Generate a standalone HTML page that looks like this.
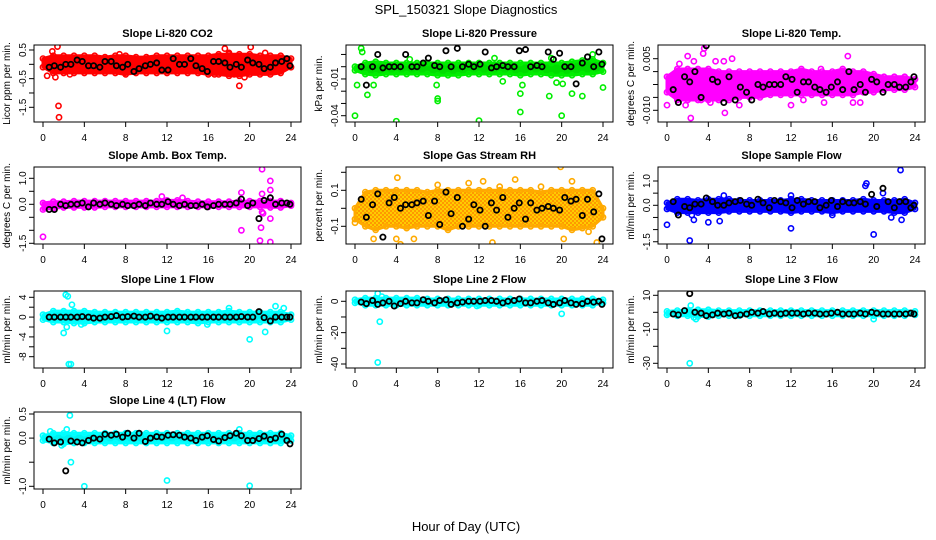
<!DOCTYPE html>
<html><head><meta charset="utf-8">
<style>
html,body{margin:0;padding:0;background:#fff;}
svg{display:block;font-family:"Liberation Sans",sans-serif;}
</style></head>
<body>
<svg id="chart" width="936" height="540" viewBox="0 0 936 540" xmlns="http://www.w3.org/2000/svg">
<defs>
<pattern id="rhpat" width="4" height="4" patternUnits="userSpaceOnUse">
<rect width="4" height="4" fill="#ffcc00"/><rect x="0" y="0" width="2" height="2" fill="#ff9900"/><rect x="2" y="2" width="2" height="2" fill="#ff9900"/>
</pattern>
</defs>
<text x="466" y="14" font-size="13" text-anchor="middle">SPL_150321  Slope Diagnostics</text>
<text x="466" y="531" font-size="13" text-anchor="middle">Hour of Day (UTC)</text>
<g id="panels"></g>
</svg>
<script>
// ---- shared data ----
const hours = [0,1,2,3,4,5,6,7,8,9,10,11,12,13,14,15,16,17,18,19,20,21,22,23,24];
const xTicks = [0,4,8,12,16,20,24];
const blackHours = [0.6,1.1,1.7,2.2,2.7,3.3,3.8,4.4,4.9,5.5,6.0,6.6,7.1,7.7,8.2,8.8,9.3,9.9,10.4,11.0,11.5,12.1,12.6,13.2,13.7,14.3,14.8,15.4,15.9,16.5,17.0,17.6,18.1,18.7,19.2,19.8,20.3,20.9,21.4,22.0,22.5,23.1,23.6,23.9];

// CO2
const co2Upper = [0.2,0.3,0.3,0.3,0.3,0.3,0.25,0.3,0.3,0.25,0.25,0.3,0.3,0.3,0.3,0.3,0.3,0.35,0.35,0.35,0.35,0.3,0.3,0.3,0.2];
const co2Lower = [-0.1,-0.3,-0.3,-0.3,-0.3,-0.3,-0.3,-0.3,-0.35,-0.3,-0.3,-0.3,-0.3,-0.3,-0.3,-0.3,-0.35,-0.35,-0.4,-0.4,-0.35,-0.35,-0.35,-0.3,-0.1];
const co2OutX = [0.9,1.4,1.2,1.5,1.55,0.4,2.6,7.4,17.6,18.0,19.0,19.5,20.1,21.5,16.6,18.5,3.9,7.9];
const co2OutY = [0.45,0.62,-0.45,-1.45,-1.85,-0.4,-0.35,0.35,0.55,0.4,-0.75,-0.45,0.6,0.4,-0.35,-0.35,-0.2,-0.3];
const co2Black = [-0.1,-0.05,-0.1,0.0,0.0,0.15,0.1,-0.05,-0.05,-0.1,0.1,0.1,-0.05,-0.1,0.0,-0.25,-0.15,-0.05,0.0,0.05,-0.2,-0.2,0.2,0.0,0.0,0.2,-0.05,-0.15,-0.25,0.1,0.1,0.05,-0.1,0.0,-0.1,0.15,0.05,0.0,-0.15,-0.1,0.05,0.1,0.2,-0.05];
// Pressure
const presUpper = [0,0.003,0.004,0.003,0.003,0.003,0.003,0.003,0.003,0.003,0.003,0.003,0.003,0.003,0.003,0.003,0.003,0.003,0.003,0.003,0.003,0.004,0.005,0.006,0.003];
const presLower = [-0.003,-0.006,-0.007,-0.006,-0.006,-0.006,-0.006,-0.006,-0.007,-0.007,-0.007,-0.006,-0.006,-0.006,-0.006,-0.006,-0.007,-0.006,-0.006,-0.007,-0.007,-0.007,-0.006,-0.006,-0.004];
const presOutX = [0,4,12,16,20,0.6,1.2,8,8,16,18.8,21,22,24,1.8,16.2,19.5,20.1,14.3,7.9,0.2,0.7,5.3,13.5,19,23];
const presOutY = [-0.04,-0.0445,-0.044,-0.037,-0.04,0.015,-0.023,-0.026,-0.028,-0.022,-0.024,-0.022,-0.024,-0.017,-0.015,-0.015,-0.013,-0.014,-0.012,-0.015,-0.015,0.012,0.006,0.007,0.007,0.01];
const presBlack = [0,-0.015,0,0.01,-0.001,0,0,0,0.01,0,0,0.003,0.007,0.001,0,0.013,0,0.015,0,0.002,0,0.002,0.012,-0.001,0,0.001,0,0,0.013,0.014,0,0.001,0,0.012,0.006,0.011,0,0,-0.014,0.003,0.008,0,0.012,0.002];
// Li-820 Temp
const tempUpper = [-0.002,0.001,0.001,0.001,0.001,0.0,0.0,0.0,0.0,0.0,0.0,0.0,0.0,0.001,0.0,0.0,0.0,0.001,0.0,0.0,-0.001,-0.002,-0.002,-0.002,-0.003];
const tempLower = [-0.008,-0.011,-0.011,-0.011,-0.011,-0.011,-0.011,-0.010,-0.010,-0.010,-0.009,-0.009,-0.009,-0.009,-0.009,-0.009,-0.009,-0.009,-0.009,-0.008,-0.008,-0.007,-0.007,-0.007,-0.006];
const tempOutX = [0,1.2,2,2.6,3.5,3.6,4.7,5.5,6.3,5.6,7.0,1.8,2.3,12,13.2,17.5,18,18.7,14.9,15.2,4.2,3.3];
const tempOutY = [-0.013,0.003,0.006,0.004,0.007,0.009,0.004,0.004,0.005,-0.016,-0.013,-0.013,-0.018,-0.013,-0.011,0.006,-0.012,-0.012,0.001,-0.012,-0.012,-0.011];
const tempBlack = [-0.007,-0.012,-0.002,-0.004,0.0,-0.010,0.010,-0.003,-0.004,-0.012,-0.002,-0.011,-0.006,-0.008,-0.011,-0.005,-0.006,-0.005,-0.005,-0.005,-0.002,-0.003,-0.008,-0.004,-0.004,-0.006,-0.007,-0.008,-0.006,-0.004,-0.007,0.0,-0.007,-0.005,-0.008,-0.003,-0.004,-0.008,-0.005,-0.005,-0.006,-0.006,-0.004,-0.002];
// Amb box temp
const ambUpper = [0.05,0.1,0.1,0.12,0.12,0.12,0.12,0.12,0.12,0.12,0.12,0.12,0.15,0.15,0.12,0.1,0.1,0.1,0.1,0.12,0.12,0.12,0.12,0.12,0.05];
const ambLower = [-0.2,-0.15,-0.12,-0.12,-0.12,-0.12,-0.1,-0.1,-0.1,-0.1,-0.1,-0.1,-0.1,-0.1,-0.1,-0.1,-0.1,-0.1,-0.1,-0.1,-0.1,-0.1,-0.12,-0.12,-0.05];
const ambOutX = [0,19.2,19.2,21,21.2,21.2,21.3,21.1,22,22,22,22,21.2,11.5,13.5];
const ambOutY = [-1.25,-1.0,0.45,-1.4,1.35,-0.3,-0.35,-0.9,0.9,0.55,-0.55,-1.45,0.4,0.3,0.25];
const ambBlack = [-0.2,-0.2,0.0,-0.05,0.0,0.0,0.05,-0.1,0.05,0.0,0.05,0.0,-0.05,0.0,-0.05,-0.05,0.0,-0.05,0.05,0.0,0.0,0.1,0.0,-0.05,0.0,-0.05,-0.05,0.0,-0.1,-0.05,0.0,0.0,0.0,0.05,0.2,-0.05,0.05,-0.55,0.15,0.25,0.0,0.05,0.05,0.0];
// Gas stream RH
const rhUpper = [0.0,0.09,0.1,0.1,0.1,0.1,0.1,0.09,0.1,0.1,0.1,0.1,0.1,0.1,0.1,0.1,0.1,0.1,0.09,0.1,0.1,0.1,0.1,0.1,0.0];
const rhLower = [-0.06,-0.1,-0.12,-0.1,-0.1,-0.11,-0.1,-0.1,-0.1,-0.12,-0.1,-0.1,-0.1,-0.1,-0.1,-0.1,-0.1,-0.1,-0.1,-0.1,-0.1,-0.12,-0.11,-0.1,-0.05];
const rhOutX = [4.1,4,4.4,5.7,15.5,19.9,21,13.3,23.4,20.2,1.8,11,12.4,0,14,18,22.6,8];
const rhOutY = [0.17,-0.17,-0.2,-0.17,0.16,0.23,0.15,-0.19,-0.19,-0.17,-0.17,0.14,0.15,-0.08,0.12,0.12,-0.13,0.13];
const rhBlack = [0.05,-0.05,0.02,0.08,-0.16,0.03,0.06,0.0,0.02,0.02,0.03,0.04,-0.04,0.04,-0.09,0.09,-0.03,0.06,-0.1,-0.06,0.02,-0.01,-0.1,0.03,-0.01,0.06,-0.05,0.0,0.03,-0.06,0.03,-0.01,0.0,0.01,0.0,-0.01,0.06,0.04,0.05,-0.04,0.05,-0.02,0.08,-0.17];
// Sample flow
const sampUpper = [0.1,0.25,0.25,0.2,0.25,0.25,0.25,0.2,0.2,0.2,0.2,0.2,0.25,0.25,0.2,0.2,0.2,0.2,0.2,0.25,0.2,0.2,0.2,0.25,0.1];
const sampLower = [-0.15,-0.3,-0.3,-0.3,-0.3,-0.3,-0.25,-0.25,-0.25,-0.25,-0.25,-0.25,-0.3,-0.25,-0.25,-0.25,-0.3,-0.25,-0.25,-0.25,-0.25,-0.25,-0.3,-0.3,-0.15];
const sampOutX = [0,2.2,2.6,4,5.1,12,19.2,19.3,20,22.6,22.7,21.7,20.9,2.4,12,5.5,16];
const sampOutY = [-0.8,-1.45,-0.6,-0.7,-0.65,-0.95,0.8,0.9,-1.2,1.45,-0.6,-0.5,0.5,-0.4,0.4,0.4,-0.4];
const sampBlack = [0.15,-0.4,-0.05,-0.1,0.05,0.05,0.3,0.15,0.0,0.0,0.1,0.15,0.2,0.05,0.0,0.25,0.1,-0.1,0.2,0.15,0.1,-0.1,0.2,0.05,0.15,0.15,-0.1,0.0,0.2,-0.05,0.15,0.1,0.1,0.15,0.05,0.45,-0.05,0.7,0.15,-0.1,0.15,0.15,-0.1,0.0];
// Line 1
const l1Upper = [0.5,1.2,1.2,1.2,1.2,1,1,1,1,1,1,1,1,1.2,1,1,1,1,1.2,1,1,1,1,1,0.5];
const l1Lower = [-0.5,-1,-1,-1.2,-1.2,-1,-1,-1,-1,-1,-1,-1,-1,-1,-1,-1.2,-1,-1,-1,-1,-1,-1,-1,-1,-0.5];
const l1OutX = [2.2,2.4,2.5,2.7,2.0,2.3,2.8,12,20,21.5,22.5,18,3.7,15.9,23.3];
const l1OutY = [4.5,4.2,-9.5,-9.5,-3.2,-2,2.5,-2.8,-4.5,-3,2.2,1.8,-1.5,-1.5,1.8];
const l1Black = [0,0,0,0,0,0,0.1,0,-0.2,-0.2,0,0.1,0.3,0,0.1,0.2,0,0,0.2,0,-0.2,0,0,0,0,0,0,0,0,0,0,0,0,0,0.1,0,0,1.1,-0.1,-0.8,0,0,0,0];
// Line 2
const l2Upper = [1,2,2,2,2,2,2,1.5,1.5,1.5,1.5,1.5,1.5,1.5,1.5,1.5,1.5,1.5,1.5,1.5,1.5,1.5,1.5,1.5,1];
const l2Lower = [-1,-2.5,-2.5,-2.5,-2.5,-2.5,-2.5,-2.5,-2.5,-2.5,-2.5,-2.5,-2.5,-2.5,-2.5,-2.5,-2.5,-2.5,-2.5,-2.5,-2.5,-2.5,-2.5,-2.5,-1];
const l2OutX = [2.2,2.4,2.2,20,2.6,11.8];
const l2OutY = [5,-13,-39,-8,3,-3];
const l2Black = [-0.5,-1.5,0.5,-2,-1,0,-3,-1.5,0,-1,-1,1,0,-1,0.5,1,-2,-1,-0.5,0,0,0,0.5,0.5,0,-1,0,0.5,1.5,-1,-1,0,0.5,-1,-2,-1,0.5,-1,-2,-1.5,0,-0.5,0,-2];
// Line 3
const l3Upper = [0.5,1,1,1.5,1.5,1,1,1,1,1,1,1,1,1,1,1,1,1,1,1,1,1,1,1,0.5];
const l3Lower = [-1.5,-2,-2,-2.5,-2.5,-2,-2,-2,-2,-2,-2,-2,-2,-2,-2,-2,-2,-2,-2,-2,-2,-2,-2,-2,-1.5];
const l3OutX = [2.2,2.3,2.6,2.8,20,12];
const l3OutY = [-30,4,-3,-4,-4,-2];
const l3Black = [-1,-1.5,1,11,0,-0.5,-2,-1.5,-0.5,-1,-0.5,-2,-1.5,-1,0,-0.5,0.5,-1,-0.5,-1,-0.5,-0.5,-0.5,-1,-0.5,-0.5,-1,-1,-0.5,0,-1,-1,-1,-0.5,-1,0,-0.5,-1,-1,-1,-1,-1,-0.5,-1];
// Line 4
const l4Upper = [0.05,0.1,0.1,0.1,0.1,0.1,0.1,0.1,0.1,0.1,0.1,0.1,0.1,0.1,0.1,0.1,0.1,0.1,0.1,0.1,0.1,0.1,0.1,0.1,0.05];
const l4Lower = [-0.05,-0.1,-0.12,-0.1,-0.1,-0.1,-0.1,-0.1,-0.1,-0.1,-0.1,-0.1,-0.1,-0.1,-0.1,-0.1,-0.1,-0.1,-0.1,-0.1,-0.1,-0.1,-0.1,-0.1,-0.05];
const l4OutX = [2.6,2.7,4,12,20,2.3,1.8,0.7,19];
const l4OutY = [0.47,-0.5,-1.0,-0.88,-0.99,0.18,-0.15,0.14,0.18];
const l4Black = [-0.02,-0.1,-0.08,-0.68,-0.06,-0.08,-0.1,-0.05,0.0,-0.02,0.08,0.06,0.08,0.02,0.1,0.0,0.1,-0.07,0.0,0.03,0.02,0.06,0.07,0.06,0.02,0.0,-0.05,0.02,0.05,-0.03,-0.06,0.01,0.05,0.1,0.05,-0.05,-0.05,-0.01,0.04,-0.03,0.0,0.08,-0.05,-0.12];

// ---- layout config ----
const panels = [
 {name:'co2',title:'Slope Li-820 CO2',ylab:'Licor ppm per min.',col:0,top:45,ref:[0.5,50,-1.5,107.3],ticks:[0.5,0,-0.5,-1,-1.5],labels:['0.5','','-0.5','','-1.5'],color:'#ff0000',fill:'#ff0000',up:co2Upper,lo:co2Lower,ox:co2OutX,oy:co2OutY,bk:co2Black},
 {name:'pressure',title:'Slope Li-820 Pressure',ylab:'kPa per min.',col:1,top:45,ref:[0,66.7,-0.04,115.7],ticks:[0.01,0,-0.01,-0.02,-0.03,-0.04],labels:['','','-0.01','','','-0.04'],color:'#00ee00',fill:'#00dd00',up:presUpper,lo:presLower,ox:presOutX,oy:presOutY,bk:presBlack},
 {name:'li820-temp',title:'Slope Li-820 Temp.',ylab:'degrees C per min.',col:2,top:45,ref:[0.005,58.7,-0.015,110.3],ticks:[0.005,0,-0.005,-0.01,-0.015],labels:['0.005','','','','-0.010'],color:'#ff00ff',fill:'#ff00ff',up:tempUpper,lo:tempLower,ox:tempOutX,oy:tempOutY,bk:tempBlack},
 {name:'amb-box-temp',title:'Slope Amb. Box Temp.',ylab:'degrees C per min.',col:0,top:167,ref:[1,178.3,-1.5,243.3],ticks:[1,0.5,0,-0.5,-1,-1.5],labels:['1.0','','0.0','','','-1.5'],color:'#ff00ff',fill:'#ff00ff',up:ambUpper,lo:ambLower,ox:ambOutX,oy:ambOutY,bk:ambBlack},
 {name:'gas-stream-rh',title:'Slope Gas Stream RH',ylab:'percent per min.',col:1,top:167,ref:[0.1,190.3,-0.1,226.3],ticks:[0.2,0.1,0,-0.1],labels:['','0.1','','-0.1'],color:'#ffaa00',fill:'url(#rhpat)',up:rhUpper,lo:rhLower,ox:rhOutX,oy:rhOutY,bk:rhBlack},
 {name:'sample-flow',title:'Slope Sample Flow',ylab:'ml/min per min.',col:2,top:167,ref:[1,181,0,205.3],ticks:[1,0.5,0,-0.5,-1,-1.5],labels:['1.0','','0.0','','','-1.5'],color:'#0000ff',fill:'#0000ff',up:sampUpper,lo:sampLower,ox:sampOutX,oy:sampOutY,bk:sampBlack},
 {name:'line1-flow',title:'Slope Line 1 Flow',ylab:'ml/min per min.',col:0,top:291,ref:[4,297.3,-8,356.7],ticks:[4,2,0,-2,-4,-6,-8],labels:['4','','0','','-4','','-8'],color:'#00ffff',fill:'#00f0f0',up:l1Upper,lo:l1Lower,ox:l1OutX,oy:l1OutY,bk:l1Black},
 {name:'line2-flow',title:'Slope Line 2 Flow',ylab:'ml/min per min.',col:1,top:291,ref:[0,301.3,-40,364],ticks:[0,-10,-20,-30,-40],labels:['0','','-20','','-40'],color:'#00ffff',fill:'#00f0f0',up:l2Upper,lo:l2Lower,ox:l2OutX,oy:l2OutY,bk:l2Black},
 {name:'line3-flow',title:'Slope Line 3 Flow',ylab:'ml/min per min.',col:2,top:291,ref:[10,295.3,-30,363.3],ticks:[10,0,-10,-20,-30],labels:['10','','-10','','-30'],color:'#00ffff',fill:'#00f0f0',up:l3Upper,lo:l3Lower,ox:l3OutX,oy:l3OutY,bk:l3Black},
 {name:'line4-flow',title:'Slope Line 4 (LT) Flow',ylab:'ml/min per min.',col:0,top:412,ref:[0.5,414,-1,486.3],ticks:[0.5,0,-0.5,-1],labels:['0.5','0.0','','-1.0'],color:'#00ffff',fill:'#00f0f0',up:l4Upper,lo:l4Lower,ox:l4OutX,oy:l4OutY,bk:l4Black}
];
const colLeft = [34,346,658];
const boxW = 267, boxH = 77;
const NS = 'http://www.w3.org/2000/svg';
const root = document.getElementById('panels');
function mk(tag, attrs, parent){
  const e = document.createElementNS(NS, tag);
  for (const k in attrs) e.setAttribute(k, attrs[k]);
  parent.appendChild(e); return e;
}
panels.forEach(p => {
  const L = colLeft[p.col], T = p.top, B = T + boxH;
  const xs = h => L + 9 + h * (248 / 24);
  const ys = v => p.ref[1] + (v - p.ref[0]) * (p.ref[3] - p.ref[1]) / (p.ref[2] - p.ref[0]);
  const g = mk('g', {}, root);
  
  
  const cp = mk('clipPath', {id: 'clip-' + p.name}, g);
  mk('rect', {x: L, y: T, width: boxW, height: boxH}, cp);
  const t = mk('text', {x: L + boxW / 2, y: T - 8, 'font-size': 11, 'font-weight': 'bold', 'text-anchor': 'middle'}, g);
  t.textContent = p.title;
  
  
  const yl = mk('text', {transform: `translate(${L - 24},${T + boxH / 2}) rotate(-90)`, 'font-size': 10, 'text-anchor': 'middle'}, g);
  yl.textContent = p.ylab;
  
  
  const plot = mk('g', {'clip-path': `url(#clip-${p.name})`}, g);
  
  
  let pts = hours.map((h, i) => xs(h) + ',' + ys(p.up[i]));
  pts = pts.concat(hours.map((h, i) => xs(h) + ',' + ys(p.lo[i])).reverse());
  const band = mk('polygon', {points: pts.join(' '), fill: p.fill, stroke: p.color, 'stroke-width': 3, 'stroke-linejoin': 'round'}, plot);
  
  
  hours.forEach((h, i) => {
    [p.up[i], p.lo[i]].forEach(v => {
      const c = mk('circle', {cx: xs(h), cy: ys(v), r: 2.6, fill: 'none', stroke: p.color, 'stroke-width': 1.6}, plot);
      
      
    });
  });
  p.ox.forEach((x, i) => {
    const c = mk('circle', {cx: xs(x), cy: ys(p.oy[i]), r: 2.6, fill: 'none', stroke: p.color, 'stroke-width': 1.6}, plot);
    
    
  });
  blackHours.forEach((h, i) => {
    const c = mk('circle', {cx: xs(h), cy: ys(p.bk[i]), r: 2.6, fill: 'none', stroke: '#000', 'stroke-width': 1.8}, plot);
    
    
  });
  const box = mk('rect', {x: L, y: T, width: boxW, height: boxH, fill: 'none', stroke: '#000', 'stroke-width': 1}, g);
  
  
  xTicks.forEach(v => {
    mk('line', {x1: xs(v), x2: xs(v), y1: B, y2: B + 5, stroke: '#000'}, g);
    const tl = mk('text', {x: xs(v), y: B + 19, 'font-size': 10, 'text-anchor': 'middle'}, g);
    tl.textContent = v;
    
    
  });
  p.ticks.forEach((v, i) => {
    mk('line', {x1: L - 5, x2: L, y1: ys(v), y2: ys(v), stroke: '#000'}, g);
    if (p.labels[i]) {
      const tl = mk('text', {transform: `translate(${L - 8},${ys(v)}) rotate(-90)`, 'font-size': 10, 'text-anchor': 'middle'}, g);
      tl.textContent = p.labels[i];
      
      
    }
  });
});
</script>
</body></html>
